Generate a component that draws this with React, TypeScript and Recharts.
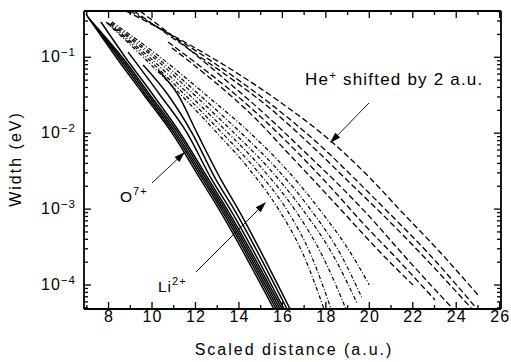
import React from 'react';
import { LineChart, Line, XAxis, YAxis } from 'recharts';

type Pair = [number, number];

// O7+ curves (solid): [scaled distance, width eV]
const o7a: Pair[] = [[6.96, 0.372], [8.34, 0.101], [9.63, 0.0319], [10.92, 0.0101], [12.25, 0.00242], [13.08, 0.001], [15.61, 4.83e-5]];
const o7b: Pair[] = [[7.05, 0.34], [8.44, 0.101], [9.72, 0.0319], [11.01, 0.0101], [12.35, 0.00242], [13.18, 0.001], [15.71, 4.83e-5]];
const o7c: Pair[] = [[7.15, 0.31], [8.53, 0.101], [9.82, 0.0319], [11.1, 0.0101], [12.44, 0.00242], [13.27, 0.001], [15.8, 4.83e-5]];
const o7d: Pair[] = [[7.24, 0.292], [8.62, 0.101], [9.91, 0.0319], [11.2, 0.0101], [12.53, 0.00242], [13.36, 0.001], [15.89, 4.83e-5]];
const o7e: Pair[] = [[7.65, 0.292], [8.76, 0.101], [10.05, 0.0319], [11.29, 0.0101], [12.62, 0.00242], [13.45, 0.001], [15.98, 4.83e-5]];
const o7f: Pair[] = [[8.9, 0.117], [10.37, 0.0319], [11.61, 0.0101], [12.76, 0.00242], [13.59, 0.001], [16.07, 4.83e-5]];
const o7g: Pair[] = [[9.59, 0.0792], [10.74, 0.0319], [11.84, 0.0101], [12.95, 0.00242], [13.77, 0.001], [16.21, 4.83e-5]];
const o7h: Pair[] = [[10.28, 0.068], [11.2, 0.0319], [12.07, 0.0101], [13.18, 0.00242], [13.96, 0.001], [16.35, 4.83e-5]];

// Li2+ curves (dash-dot)
const li1: Pair[] = [[7.88, 0.292], [9.585, 0.101], [11.334, 0.0319], [12.991, 0.0101], [14.509, 0.00327], [15.844, 0.000973], [16.971, 0.000248], [17.915, 4.83e-5]];
const li2: Pair[] = [[7.93, 0.283], [9.723, 0.101], [11.518, 0.0319], [13.221, 0.0101], [14.808, 0.00327], [16.212, 0.000973], [17.316, 0.000248], [18.237, 4.83e-5]];
const li3: Pair[] = [[7.97, 0.283], [9.861, 0.101], [11.725, 0.0319], [13.497, 0.0101], [15.13, 0.00327], [16.58, 0.000973], [17.823, 0.000248], [18.927, 4.83e-5]];
const li4: Pair[] = [[8.07, 0.275], [10.045, 0.101], [11.955, 0.0319], [13.773, 0.0101], [15.453, 0.00327], [16.948, 0.000973], [18.329, 0.000248], [19.433, 5.8e-5]];
const li5: Pair[] = [[8.11, 0.283], [10.183, 0.101], [12.185, 0.0319], [14.095, 0.0101], [15.798, 0.00327], [17.316, 0.000973], [18.697, 0.000248], [19.663, 6.75e-5]];
const li6: Pair[] = [[8.16, 0.292], [10.367, 0.101], [12.484, 0.0319], [14.509, 0.0101], [16.212, 0.00327], [17.73, 0.000973], [19.203, 0.000248], [20.0, 1.0e-4]];

// He+ curves shifted by 2 a.u. (dashed)
const he1: Pair[] = [[8.8, 0.407], [11.75, 0.145], [14.049, 0.0585], [15.89, 0.0258], [18.33, 0.00743], [20.03, 0.00257], [21.5, 0.000916], [23.25, 0.000272], [25.0, 7.4e-5]];
const he2: Pair[] = [[8.99, 0.407], [11.748, 0.1367], [13.911, 0.0518], [15.522, 0.0235], [17.869, 0.00638], [19.479, 0.00228], [20.768, 0.000973], [22.793, 0.000248], [24.956, 4.83e-5]];
const he3: Pair[] = [[9.17, 0.407], [11.748, 0.1248], [13.727, 0.0502], [15.246, 0.0235], [17.547, 0.00601], [19.203, 0.00208], [20.492, 0.000916], [22.563, 0.000227], [24.725, 4.83e-5]];
const he4: Pair[] = [[9.45, 0.407], [11.748, 0.1248], [13.497, 0.0473], [14.877, 0.0215], [17.178, 0.00516], [18.743, 0.0019], [19.94, 0.000836], [21.78, 0.000213], [23.851, 4.83e-5]];
const he5: Pair[] = [[10.736, 0.159], [12.438, 0.068], [13.865, 0.0319], [15.061, 0.01585], [16.81, 0.00516], [18.329, 0.00179], [19.571, 0.000718], [21.412, 0.000201], [23.023, 6.35e-5]];
const he6: Pair[] = [[10.92, 0.1329], [12.438, 0.0603], [13.589, 0.0319], [14.739, 0.01585], [16.212, 0.00565], [17.639, 0.00208], [18.789, 0.000916], [20.492, 0.000272], [22.01, 1.0e-4]];

const o7Curves = [o7a, o7b, o7c, o7d, o7e, o7f, o7g, o7h];
const liCurves = [li1, li2, li3, li4, li5, li6];
const heCurves = [he1, he2, he3, he4, he5, he6];

// axes
const xDomain: [number, number] = [6.87, 26.06];
const yDomain: [number, number] = [4.83e-5, 0.407];
const xTicks = [7, 8, 9, 10, 11, 12, 13, 14, 15, 16, 17, 18, 19, 20, 21, 22, 23, 24, 25, 26];
const xTickLabels = [8, 10, 12, 14, 16, 18, 20, 22, 24, 26];
const yMajorTicks = [1e-4, 1e-3, 1e-2, 1e-1];
const yExponentLabels = ['\u22124', '\u22123', '\u22122', '\u22121'];
const yMinorTicks = [
  5e-5, 6e-5, 7e-5, 8e-5, 9e-5,
  2e-4, 3e-4, 4e-4, 5e-4, 6e-4, 7e-4, 8e-4, 9e-4,
  2e-3, 3e-3, 4e-3, 5e-3, 6e-3, 7e-3, 8e-3, 9e-3,
  2e-2, 3e-2, 4e-2, 5e-2, 6e-2, 7e-2, 8e-2, 9e-2,
  0.2, 0.3, 0.4,
];
const yTicks = [...yMinorTicks, ...yMajorTicks].sort((a, b) => a - b);

const FONT = '"Liberation Sans", Arial, Helvetica, sans-serif';
const toPts = (a: Pair[]) => a.map(([x, w]) => ({ x, w }));

const XTickBottom = (props: any) => {
  const { x, y, payload } = props;
  const v = payload.value;
  const major = xTickLabels.includes(v);
  return (
    <g>
      <line x1={x} x2={x} y1={y} y2={y - (major ? 7 : 4)} stroke="#000" strokeWidth={1.3} />
      {major && (
        <text x={x + 0.6} y={y + 13} textAnchor="middle" fontSize={16} fontFamily={FONT} letterSpacing={1.2} fill="#000">
          {v}
        </text>
      )}
    </g>
  );
};

const XTickTop = (props: any) => {
  const { x, y, payload } = props;
  const major = xTickLabels.includes(payload.value);
  return <line x1={x} x2={x} y1={y} y2={y + (major ? 7 : 4)} stroke="#000" strokeWidth={1.3} />;
};

const YTickLeft = (props: any) => {
  const { x, y, payload } = props;
  const idx = yMajorTicks.indexOf(payload.value);
  const major = idx >= 0;
  return (
    <g>
      <line x1={x} x2={x + (major ? 7 : 4)} y1={y} y2={y} stroke="#000" strokeWidth={1.3} />
      {major && (
        <text x={x - 8} y={y + 5} textAnchor="end" fontSize={16} fontFamily={FONT} letterSpacing={1} fill="#000">
          <tspan>10</tspan>
          <tspan dy={-6} fontSize={11.5}>{yExponentLabels[idx]}</tspan>
        </text>
      )}
    </g>
  );
};

const YTickRight = (props: any) => {
  const { x, y, payload } = props;
  const major = yMajorTicks.indexOf(payload.value) >= 0;
  return <line x1={x} x2={x - (major ? 7 : 4)} y1={y} y2={y} stroke="#000" strokeWidth={1.3} />;
};

const Arrow = ({ x1, y1, x2, y2 }: { x1: number; y1: number; x2: number; y2: number }) => {
  const dx = x2 - x1;
  const dy = y2 - y1;
  const L = Math.hypot(dx, dy);
  const ux = dx / L;
  const uy = dy / L;
  const hl = 11;
  const hw = 3.5;
  const bx = x2 - ux * hl;
  const by = y2 - uy * hl;
  const pts = `${x2},${y2} ${bx - uy * hw},${by + ux * hw} ${bx + uy * hw},${by - ux * hw}`;
  return (
    <g>
      <line x1={x1} y1={y1} x2={bx} y2={by} stroke="#000" strokeWidth={0.9} />
      <polygon points={pts} fill="#000" />
    </g>
  );
};

const axisLineStyle = { stroke: '#000', strokeWidth: 1.8 };

export default function App() {
  return (
    <div style={{ position: 'absolute', left: 0, top: 0, width: 511, height: 362, background: '#fff' }}>
      <LineChart width={511} height={362} margin={{ top: 10, right: 9, bottom: 0, left: 0 }}>
        <XAxis
          xAxisId={0}
          dataKey="x"
          type="number"
          domain={xDomain}
          ticks={xTicks}
          interval={0}
          allowDataOverflow
          height={53}
          tickSize={0}
          tickMargin={0}
          tickLine={false}
          axisLine={axisLineStyle}
          tick={<XTickBottom />}
        />
        <XAxis
          xAxisId="top"
          orientation="top"
          dataKey="x"
          type="number"
          domain={xDomain}
          ticks={xTicks}
          interval={0}
          allowDataOverflow
          height={1}
          tickSize={0}
          tickMargin={0}
          tickLine={false}
          axisLine={axisLineStyle}
          tick={<XTickTop />}
        />
        <YAxis
          yAxisId={0}
          type="number"
          scale="log"
          domain={yDomain}
          ticks={yTicks}
          interval={0}
          allowDataOverflow
          width={84}
          tickSize={0}
          tickMargin={0}
          tickLine={false}
          axisLine={axisLineStyle}
          tick={<YTickLeft />}
        />
        <YAxis
          yAxisId="right"
          orientation="right"
          type="number"
          scale="log"
          domain={yDomain}
          ticks={yTicks}
          interval={0}
          allowDataOverflow
          width={1}
          tickSize={0}
          tickMargin={0}
          tickLine={false}
          axisLine={axisLineStyle}
          tick={<YTickRight />}
        />
        {o7Curves.map((c, i) => (
          <Line key={'o' + i} data={toPts(c)} dataKey="w" type="monotone" stroke="#000" strokeWidth={1.5} dot={false} isAnimationActive={false} />
        ))}
        {liCurves.map((c, i) => (
          <Line key={'l' + i} data={toPts(c)} dataKey="w" type="monotone" stroke="#000" strokeWidth={1.2} strokeDasharray="4 2 1 2" dot={false} isAnimationActive={false} />
        ))}
        {heCurves.map((c, i) => (
          <Line key={'h' + i} data={toPts(c)} dataKey="w" type="monotone" stroke="#000" strokeWidth={1.3} strokeDasharray="6 3" dot={false} isAnimationActive={false} />
        ))}
      </LineChart>
      <svg width={511} height={362} style={{ position: 'absolute', left: 0, top: 0, pointerEvents: 'none' }}>
        <text x={294} y={355} textAnchor="middle" fontSize={16} fontFamily={FONT} letterSpacing={2} fill="#000">
          Scaled distance (a.u.)
        </text>
        <text transform="translate(20.5,159) rotate(-90)" textAnchor="middle" fontSize={16} fontFamily={FONT} letterSpacing={2} fill="#000">
          Width (eV)
        </text>
        <text x={305} y={85} fontSize={17} fontFamily={FONT} letterSpacing={1.2} fill="#000">
          <tspan>He</tspan>
          <tspan dy={-6} fontSize={11.5}>+</tspan>
          <tspan dy={6}> shifted by 2 a.u.</tspan>
        </text>
        <text x={120} y={202} fontSize={15.5} fontFamily={FONT} letterSpacing={1} fill="#000">
          <tspan>O</tspan>
          <tspan dy={-7} fontSize={11}>7+</tspan>
        </text>
        <text x={158} y={291.5} fontSize={15.5} fontFamily={FONT} letterSpacing={1} fill="#000">
          <tspan>Li</tspan>
          <tspan dy={-7} fontSize={11}>2+</tspan>
        </text>
        <Arrow x1={369} y1={103} x2={330} y2={143} />
        <Arrow x1={152} y1={183} x2={185} y2={152} />
        <Arrow x1={196} y1={272} x2={266} y2={202} />
      </svg>
    </div>
  );
}
